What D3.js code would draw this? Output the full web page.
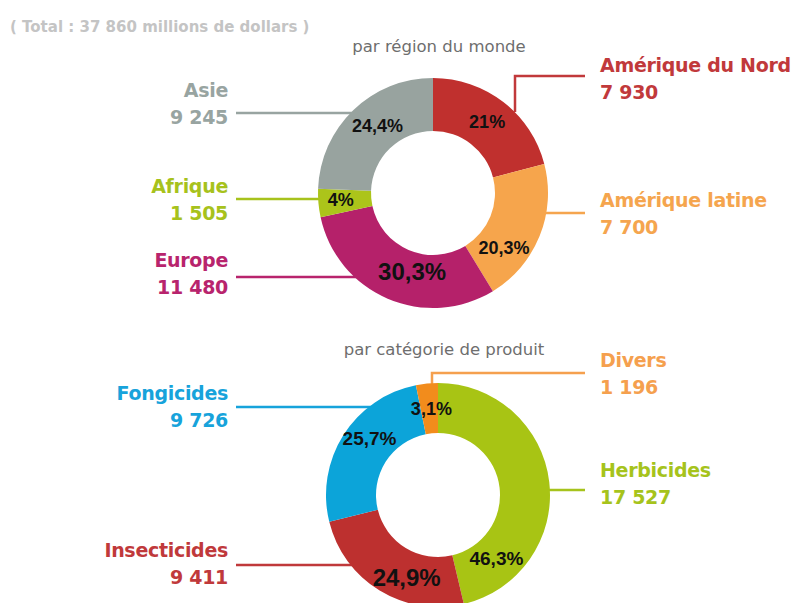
<!DOCTYPE html>
<html lang="fr">
<head>
<meta charset="utf-8">
<script src="https://cdn.jsdelivr.net/npm/d3@7"></script>
<style>
  html, body { margin: 0; padding: 0; background: #fff; }
  svg { display: block; }
</style>
</head>
<body>
<svg id="chart" width="793" height="603"></svg>
<script>
// Marché mondial des produits phytosanitaires (millions de dollars)
const regions = ["Amérique du Nord", "Amérique latine", "Europe", "Afrique", "Asie"];
const regionValues = [7930, 7700, 11480, 1505, 9245];
const regionShares = ["21%", "20,3%", "30,3%", "4%", "24,4%"];
const regionColors = ["#c0302e", "#f6a54c", "#b5216a", "#acc41a", "#98a39f"];
const regionTextColors = ["#c1393b", "#f5a54e", "#b8246d", "#a7c21c", "#98a4a1"];

const products = ["Herbicides", "Insecticides", "Fongicides", "Divers"];
const productValues = [17527, 9411, 9726, 1196];
const productShares = ["46,3%", "24,9%", "25,7%", "3,1%"];
const productColors = ["#a8c414", "#bd302f", "#0ca4d9", "#f28c1c"];
const productTextColors = ["#a6c31c", "#c0393b", "#17a3db", "#f5a04e"];

const fr = d3.formatLocale({ decimal: ",", thousands: "\u00a0", grouping: [3], currency: ["", " $"] });
const fmt = fr.format(",d");

const svg = d3.select("#chart");

const total = d3.sum(regionValues);
svg.append("text")
  .attr("x", 10).attr("y", 32)
  .attr("font-family", "DejaVu Sans, sans-serif")
  .attr("font-weight", "bold")
  .attr("font-size", 15)
  .attr("fill", "#c4c4c4")
  .text(`( Total : ${fmt(total)} millions de dollars )`);

// Layout of each ring: centre, radii, subtitle and callouts
const donuts = [
  {
    names: regions, values: regionValues, shares: regionShares,
    colors: regionColors, textColors: regionTextColors,
    cx: 433, cy: 193, outer: 115, inner: 62,
    subtitle: "par région du monde", subY: 52,
    // per slice: side, name baseline, leader y, optional elbow x / end y
    callouts: [
      { side: "right", y: 72, leaderY: 76, elbowX: 515, endY: 112 },
      { side: "right", y: 207, leaderY: 213 },
      { side: "left", y: 267, leaderY: 277 },
      { side: "left", y: 193, leaderY: 199 },
      { side: "left", y: 97, leaderY: 113 }
    ],
    pctNudge: [[0, -1], [-11, 21], [14, -3], [-4, -1], [6, -4]],
    pctSize: [18, 18, 24, 18, 18]
  },
  {
    names: products, values: productValues, shares: productShares,
    colors: productColors, textColors: productTextColors,
    cx: 438, cy: 495, outer: 112, inner: 62,
    subtitle: "par catégorie de produit", subY: 355,
    callouts: [
      { side: "right", y: 477, leaderY: 490 },
      { side: "left", y: 557, leaderY: 565 },
      { side: "left", y: 400, leaderY: 407 },
      { side: "right", y: 367, leaderY: 373, elbowX: 432, endY: 386 }
    ],
    pctNudge: [[-28, 73], [14, 8], [5, -10], [2, 0]],
    pctSize: [19, 24, 19, 18]
  }
];

const leftX = 228, rightX = 600, leftLineX = 236, rightLineX = 585;

donuts.forEach(dn => {
  const g = svg.append("g");

  g.append("text")
    .attr("x", dn.cx + 6).attr("y", dn.subY)
    .attr("text-anchor", "middle")
    .attr("font-family", "DejaVu Sans, sans-serif")
    .attr("font-size", 16.5)
    .attr("fill", "#6e6e6e")
    .text(dn.subtitle);

  const pie = d3.pie().sort(null).value(d => d)(dn.values);
  const arc = d3.arc().innerRadius(dn.inner).outerRadius(dn.outer);

  // leader lines (drawn under the ring)
  dn.callouts.forEach((c, i) => {
    const col = dn.textColors[i];
    const dy = c.leaderY - dn.cy;
    const half = Math.sqrt(Math.max(0, dn.outer * dn.outer - dy * dy));
    let pts;
    if (c.elbowX !== undefined) {
      pts = [[rightLineX, c.leaderY], [c.elbowX, c.leaderY], [c.elbowX, c.endY]];
    } else if (c.side === "left") {
      pts = [[leftLineX, c.leaderY], [dn.cx - half + 4, c.leaderY]];
    } else {
      pts = [[dn.cx + half - 4, c.leaderY], [rightLineX, c.leaderY]];
    }
    g.append("path")
      .attr("d", d3.line()(pts))
      .attr("fill", "none")
      .attr("stroke", col)
      .attr("stroke-width", 2.5);
  });

  const ring = g.append("g").attr("transform", `translate(${dn.cx},${dn.cy})`);
  ring.selectAll("path.slice")
    .data(pie)
    .join("path")
    .attr("class", "slice")
    .attr("d", arc)
    .attr("fill", (d, i) => dn.colors[i]);

  ring.selectAll("text.pct")
    .data(pie)
    .join("text")
    .attr("class", "pct")
    .attr("transform", (d, i) => {
      const [x, y] = arc.centroid(d);
      return `translate(${x + dn.pctNudge[i][0]},${y + dn.pctNudge[i][1]})`;
    })
    .attr("text-anchor", "middle")
    .attr("dy", "0.36em")
    .attr("font-family", "Liberation Sans, Arial, sans-serif")
    .attr("font-weight", "bold")
    .attr("font-size", (d, i) => dn.pctSize[i])
    .attr("fill", "#111")
    .text((d, i) => dn.shares[i]);

  // callout texts
  dn.callouts.forEach((c, i) => {
    const t = g.append("text")
      .attr("x", c.side === "left" ? leftX : rightX)
      .attr("y", c.y)
      .attr("text-anchor", c.side === "left" ? "end" : "start")
      .attr("font-family", "DejaVu Sans, sans-serif")
      .attr("font-weight", "bold")
      .attr("font-size", 19)
      .attr("letter-spacing", -0.3)
      .attr("fill", dn.textColors[i]);
    t.append("tspan").text(dn.names[i]);
    t.append("tspan")
      .attr("x", c.side === "left" ? leftX : rightX)
      .attr("dy", 26.5)
      .text(fmt(dn.values[i]));
  });
});
</script>
</body>
</html>
